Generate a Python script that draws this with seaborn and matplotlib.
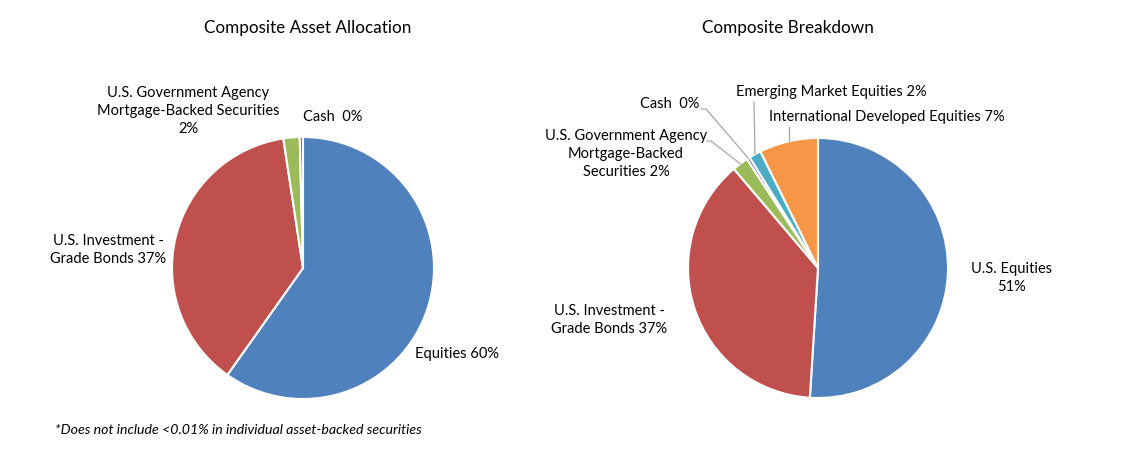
import numpy as np
import matplotlib
matplotlib.use("Agg")
import matplotlib.pyplot as plt
import seaborn as sns

# ---------------- data ----------------
left_title = "Composite Asset Allocation"
left_labels = ["Equities 60%", "U.S. Investment -\nGrade Bonds 37%",
               "U.S. Government Agency\nMortgage-Backed Securities\n2%", "Cash  0%"]
left_values = [59.8, 37.8, 2.0, 0.4]

right_title = "Composite Breakdown"
right_labels = ["U.S. Equities\n51%", "U.S. Investment -\nGrade Bonds 37%",
                "U.S. Government Agency\nMortgage-Backed\nSecurities 2%", "Cash  0%",
                "Emerging Market Equities 2%", "International Developed Equities 7%"]
right_values = [51.0, 37.8, 2.0, 0.4, 1.5, 7.3]

footnote = "*Does not include <0.01% in individual asset-backed securities"

# ---------------- style ----------------
sns.set_theme(style="white")
plt.rcParams['font.family'] = ['Lato', 'DejaVu Sans']
palette = sns.color_palette(["#4F81BD", "#C0504D", "#9BBB59", "#8064A2", "#4BACC6", "#F79646"])
TXT = "#000000"
LEAD = "#A6A6A6"
FS = 10.5
TFS = 12.3

W, H = 1126, 465
fig = plt.figure(figsize=(W / 100, H / 100), dpi=100)
ax = fig.add_axes([0, 0, 1, 1])

def Y(y):
    return H - y

# ---------------- left pie ----------------
lc, lr = (303, Y(268)), 131
wl, _ = ax.pie(left_values, colors=palette[:4], startangle=90, counterclock=False,
               center=lc, radius=lr, wedgeprops=dict(edgecolor="white", linewidth=1.5))

# ---------------- right pie ----------------
rc, rr = (818, Y(268)), 130
wr, _ = ax.pie(right_values, colors=palette, startangle=90, counterclock=False,
               center=rc, radius=rr, wedgeprops=dict(edgecolor="white", linewidth=1.5))

ax.set_xlim(0, W)
ax.set_ylim(0, H)
ax.set_aspect("equal")
ax.axis("off")

ax.text(308, Y(28), left_title, ha="center", va="center", fontsize=TFS, color=TXT)
ax.text(415, Y(354), left_labels[0], ha="left", va="center", fontsize=FS, color=TXT)
ax.text(108, Y(250), left_labels[1], ha="center", va="center", fontsize=FS, color=TXT, linespacing=1.35)
ax.text(188, Y(111), left_labels[2], ha="center", va="center", fontsize=FS, color=TXT, linespacing=1.35)
ax.text(333, Y(117), left_labels[3], ha="center", va="center", fontsize=FS, color=TXT)

ax.text(788, Y(28), right_title, ha="center", va="center", fontsize=TFS, color=TXT)
ax.text(1012, Y(278), right_labels[0], ha="center", va="center", fontsize=FS, color=TXT, linespacing=1.35)
ax.text(609, Y(320), right_labels[1], ha="center", va="center", fontsize=FS, color=TXT, linespacing=1.35)
ax.text(626, Y(154), right_labels[2], ha="center", va="center", fontsize=FS, color=TXT, linespacing=1.35)
ax.text(670, Y(104), right_labels[3], ha="center", va="center", fontsize=FS, color=TXT)
ax.text(831, Y(92), right_labels[4], ha="center", va="center", fontsize=FS, color=TXT)
ax.text(887, Y(117), right_labels[5], ha="center", va="center", fontsize=FS, color=TXT)

def edge_point(w, center, r):
    t = np.deg2rad((w.theta1 + w.theta2) / 2)
    return center[0] + r * np.cos(t), center[1] + r * np.sin(t)

# leader lines for small slices
ex, ey = edge_point(wr[2], rc, rr)
ax.plot([707, 711, ex], [Y(141), Y(141), ey], color=LEAD, lw=0.9)
ex, ey = edge_point(wr[3], rc, rr)
ax.plot([701, 706, ex], [Y(109), Y(109), ey], color=LEAD, lw=0.9)
ex, ey = edge_point(wr[4], rc, rr)
ax.plot([754, ex], [Y(102), ey], color=LEAD, lw=0.9)
ex, ey = edge_point(wr[5], rc, rr)
ax.plot([789, 789], [Y(127), ey], color=LEAD, lw=0.9)

ax.text(55, Y(430), footnote, ha="left", va="center", fontsize=10.2, style="italic", color=TXT)

fig.savefig("out.png", dpi=100, facecolor="white")
